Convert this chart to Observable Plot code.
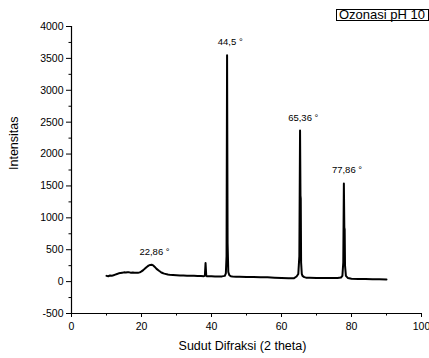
<!DOCTYPE html>
<html>
<head>
<meta charset="utf-8">
<script src="https://cdn.jsdelivr.net/npm/d3@7"></script>
<script src="https://cdn.jsdelivr.net/npm/@observablehq/plot@0.6"></script>
<style>
  html, body { margin: 0; padding: 0; background: #fff; }
  #wrap { position: relative; width: 429px; height: 358px; overflow: hidden; }
  #legend {
    position: absolute; left: 336px; top: 9px; width: 93px; height: 12px;
    box-sizing: border-box; border: 1px solid #000; background: #fff;
    font-family: "Liberation Sans", Arial, sans-serif; font-size: 13px; line-height: 10px;
    padding: 0 0 0 2px; color: #000; white-space: nowrap;
  }
</style>
</head>
<body>
<div id="wrap"><div id="legend">Ozonasi pH 10</div></div>
<script>
// 2-theta angle (degrees)
const angle = [
  10, 10.5, 11, 11.5, 12, 12.5, 13, 13.5, 14, 14.5, 15, 15.5, 16, 16.5, 17, 17.5, 18, 18.5, 19, 19.5,
  20, 20.5, 21, 21.5, 22, 22.5, 22.9, 23.3, 23.8, 24.3, 25, 25.5, 26, 26.5, 27, 27.5, 28, 29, 30, 31,
  32, 33, 34, 35, 36, 37, 37.8, 38.1, 38.3, 38.5, 38.7, 39.5, 40, 41, 42, 43, 43.8, 44.1, 44.3, 44.45,
  44.6, 44.8, 45.1, 45.5, 46, 47, 48, 50, 52, 54, 56, 58, 60, 62, 63.5, 64.3, 64.8, 65.1, 65.3, 65.42,
  65.5, 65.6, 65.8, 66, 66.5, 67, 68, 70, 72, 74, 76, 77, 77.4, 77.65, 77.82, 77.95, 78.05, 78.15, 78.4, 79,
  80, 82, 84, 86, 88, 90
];
// intensity (counts)
const intensity = [
  90, 85, 95, 92, 100, 110, 120, 130, 135, 140, 145, 142, 148, 145, 140, 142, 138, 140, 138, 145,
  160, 180, 205, 230, 250, 262, 265, 255, 230, 200, 170, 150, 135, 125, 118, 112, 108, 104, 100, 97,
  95, 93, 92, 90, 88, 87, 86, 90, 290, 95, 85, 84, 83, 82, 81, 82, 90, 130, 400, 3550,
  600, 150, 100, 85, 80, 78, 76, 74, 72, 70, 68, 62, 58, 54, 52, 80, 120, 400, 2370, 1350,
  1300, 300, 120, 90, 70, 62, 60, 58, 58, 57, 58, 65, 90, 300, 1540, 850,
  820, 250, 90, 55, 45, 42, 40, 38, 36, 35
];
// peak annotations
const peakAngle = [22.86, 44.5, 65.36, 77.86];
const peakTop = [262, 3550, 2370, 1540];
const peakLabel = ["22,86 °", "44,5 °", "65,36 °", "77,86 °"];

const yMajor = [-500, 0, 500, 1000, 1500, 2000, 2500, 3000, 3500, 4000];
const yMinor = [-250, 250, 750, 1250, 1750, 2250, 2750, 3250, 3750];
const xMajor = [0, 20, 40, 60, 80, 100];
const xMinor = [10, 30, 50, 70, 90];
const xTitle = "Sudut Difraksi (2 theta)";
const yTitle = "Intensitas";

const pts = angle.map((a, i) => ({a, v: intensity[i]}));
const peaks = peakAngle.map((a, i) => ({a, v: peakTop[i], t: peakLabel[i]}));
const plain = d => String(d);

const chart = Plot.plot({
  width: 429,
  height: 358,
  marginLeft: 71,
  marginRight: 8,
  marginTop: 26,
  marginBottom: 45,
  style: {fontFamily: "'Liberation Sans', Arial, sans-serif", fontSize: "10.5px", color: "#000", background: "transparent", overflow: "visible"},
  x: {domain: [0, 100]},
  y: {domain: [-500, 4000]},
  marks: [
    Plot.axisY(yMajor, {tickSize: 5, tickPadding: 3, tickFormat: plain, label: null, stroke: "#000"}),
    Plot.axisY(yMinor, {tickSize: 2.5, tickFormat: () => "", label: null, stroke: "#000"}),
    Plot.axisX(xMajor, {tickSize: 4, tickPadding: 5, tickFormat: plain, label: null, stroke: "#000"}),
    Plot.axisX(xMinor, {tickSize: 2.5, tickFormat: () => "", label: null, stroke: "#000"}),
    Plot.ruleX([0], {stroke: "#000", strokeWidth: 1.2}),
    Plot.ruleY([-500], {stroke: "#000", strokeWidth: 1.2}),
    Plot.line(pts, {x: "a", y: "v", stroke: "#000", strokeWidth: 2, strokeLinejoin: "round"}),
    Plot.text(peaks, {x: "a", y: "v", text: "t", dy: -13, dx: 3, fontSize: 9.5, fill: "#000"}),
    Plot.text([xTitle], {frameAnchor: "bottom", dy: 36, dx: -4, fontSize: 12.5, fill: "#000"}),
    Plot.text([yTitle], {frameAnchor: "left", dx: -58, rotate: -90, fontSize: 12.5, fill: "#000"})
  ]
});
document.getElementById("wrap").insertBefore(chart, document.getElementById("legend"));
</script>
</body>
</html>
